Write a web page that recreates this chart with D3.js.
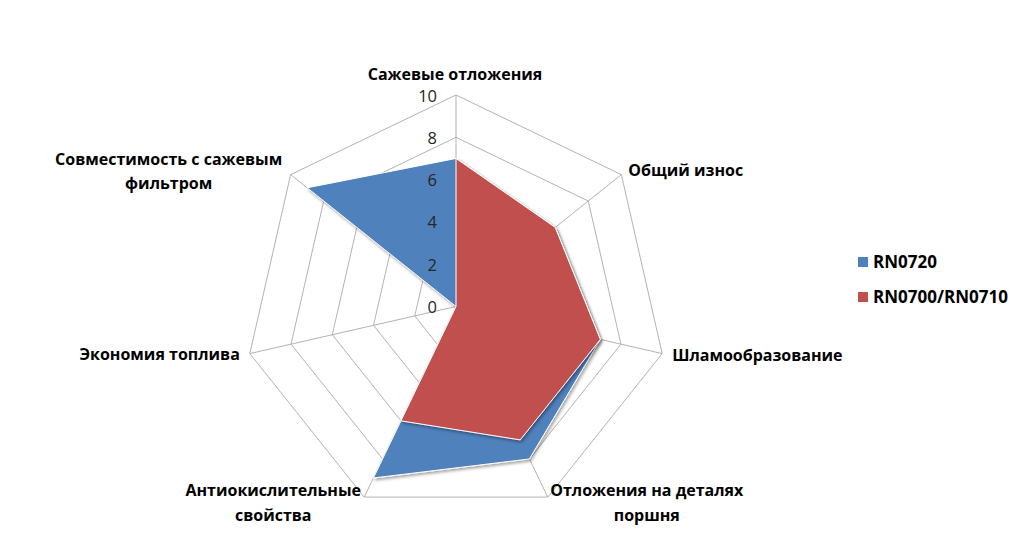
<!DOCTYPE html>
<html><head><meta charset="utf-8">
<script src="https://cdn.jsdelivr.net/npm/d3@7"></script>
<style>
html,body{margin:0;padding:0;background:#fff;}
svg{display:block;}
</style></head>
<body>
<svg id="chart" width="1024" height="550"></svg>
<script>
const categories = [
  "Сажевые отложения",
  "Общий износ",
  "Шламообразование",
  "Отложения на деталях поршня",
  "Антиокислительные свойства",
  "Экономия топлива",
  "Совместимость с сажевым фильтром"
];
const seriesNames = ["RN0720", "RN0700/RN0710"];
const rn0720 = [7, 6, 7, 8, 9, 0, 9];
const rn0700 = [7, 6, 7, 7, 6, 0, 0];
const tickValues = [0, 2, 4, 6, 8, 10];
const colors = ["#4F81BD", "#C0504D"];

const labelLines = [
  ["Сажевые отложения"],
  ["Общий износ"],
  ["Шламообразование"],
  ["Отложения на деталях", "поршня"],
  ["Антиокислительные", "свойства"],
  ["Экономия топлива"],
  ["Совместимость с сажевым", "фильтром"]
];

const FONT = "'Open Sans', 'DejaVu Sans', sans-serif";
const svg = d3.select("#chart");
const cx = 456, cy = 306.5, R = 211.5;
const n = categories.length;
const r = d3.scaleLinear().domain([0, 10]).range([0, R]);
const angle = d3.scaleLinear().domain([0, n]).range([0, 2 * Math.PI]);
const pt = (i, v) => [cx + r(v) * Math.sin(angle(i)), cy - r(v) * Math.cos(angle(i))];

const defs = svg.append("defs");
const f = defs.append("filter").attr("id", "sh").attr("x", "-20%").attr("y", "-20%").attr("width", "140%").attr("height", "140%");
f.append("feDropShadow").attr("dx", 1.5).attr("dy", 2).attr("stdDeviation", 1.5).attr("flood-color", "#000").attr("flood-opacity", 0.35);

const g = svg.append("g");
tickValues.filter(t => t > 0).forEach(t => {
  g.append("polygon")
    .attr("points", d3.range(n).map(i => pt(i, t).join(",")).join(" "))
    .attr("fill", "none").attr("stroke", "#b3b3b3").attr("stroke-width", 1);
});
d3.range(n).forEach(i => {
  const p = pt(i, 10);
  g.append("line").attr("x1", cx).attr("y1", cy).attr("x2", p[0]).attr("y2", p[1])
    .attr("stroke", "#b3b3b3").attr("stroke-width", 1);
});

[rn0720, rn0700].forEach((vals, s) => {
  g.append("polygon")
    .attr("points", vals.map((v, i) => pt(i, v).join(",")).join(" "))
    .attr("fill", colors[s]).attr("stroke", "#fff").attr("stroke-width", 1)
    .attr("filter", "url(#sh)");
});

tickValues.forEach(t => {
  g.append("text").attr("x", cx - 19).attr("y", cy - r(t) + 6.5)
    .attr("text-anchor", "end").attr("font-family", FONT)
    .attr("font-size", 16.5).attr("fill", "#262626").text(t);
});

const labelPos = [
  {dx: -1, dy: -15, anchor: "middle"},
  {dx: 7, dy: 1, anchor: "start"},
  {dx: 10, dy: 7, anchor: "start"},
  {dx: 99, dy: -1, anchor: "middle"},
  {dx: -91, dy: -1, anchor: "middle"},
  {dx: -10, dy: 6, anchor: "end"},
  {dx: -122, dy: -10, anchor: "middle"}
];
labelLines.forEach((lines, i) => {
  const p = pt(i, 10);
  const lp = labelPos[i];
  const t = svg.append("text")
    .attr("font-family", FONT).attr("font-weight", "bold")
    .attr("font-size", 16).attr("fill", "#000").attr("text-anchor", lp.anchor);
  lines.forEach((ln, k) => {
    t.append("tspan").attr("x", p[0] + lp.dx).attr("y", p[1] + lp.dy + k * 24.5).text(ln);
  });
});

seriesNames.forEach((nm, s) => {
  const y = 262 + s * 35;
  svg.append("rect").attr("x", 858).attr("y", y - 5).attr("width", 10).attr("height", 10).attr("fill", colors[s]);
  svg.append("text").attr("x", 873).attr("y", y + 6)
    .attr("font-family", FONT).attr("font-weight", "bold")
    .attr("font-size", 17).attr("fill", "#000").text(nm);
});
</script>
</body></html>
